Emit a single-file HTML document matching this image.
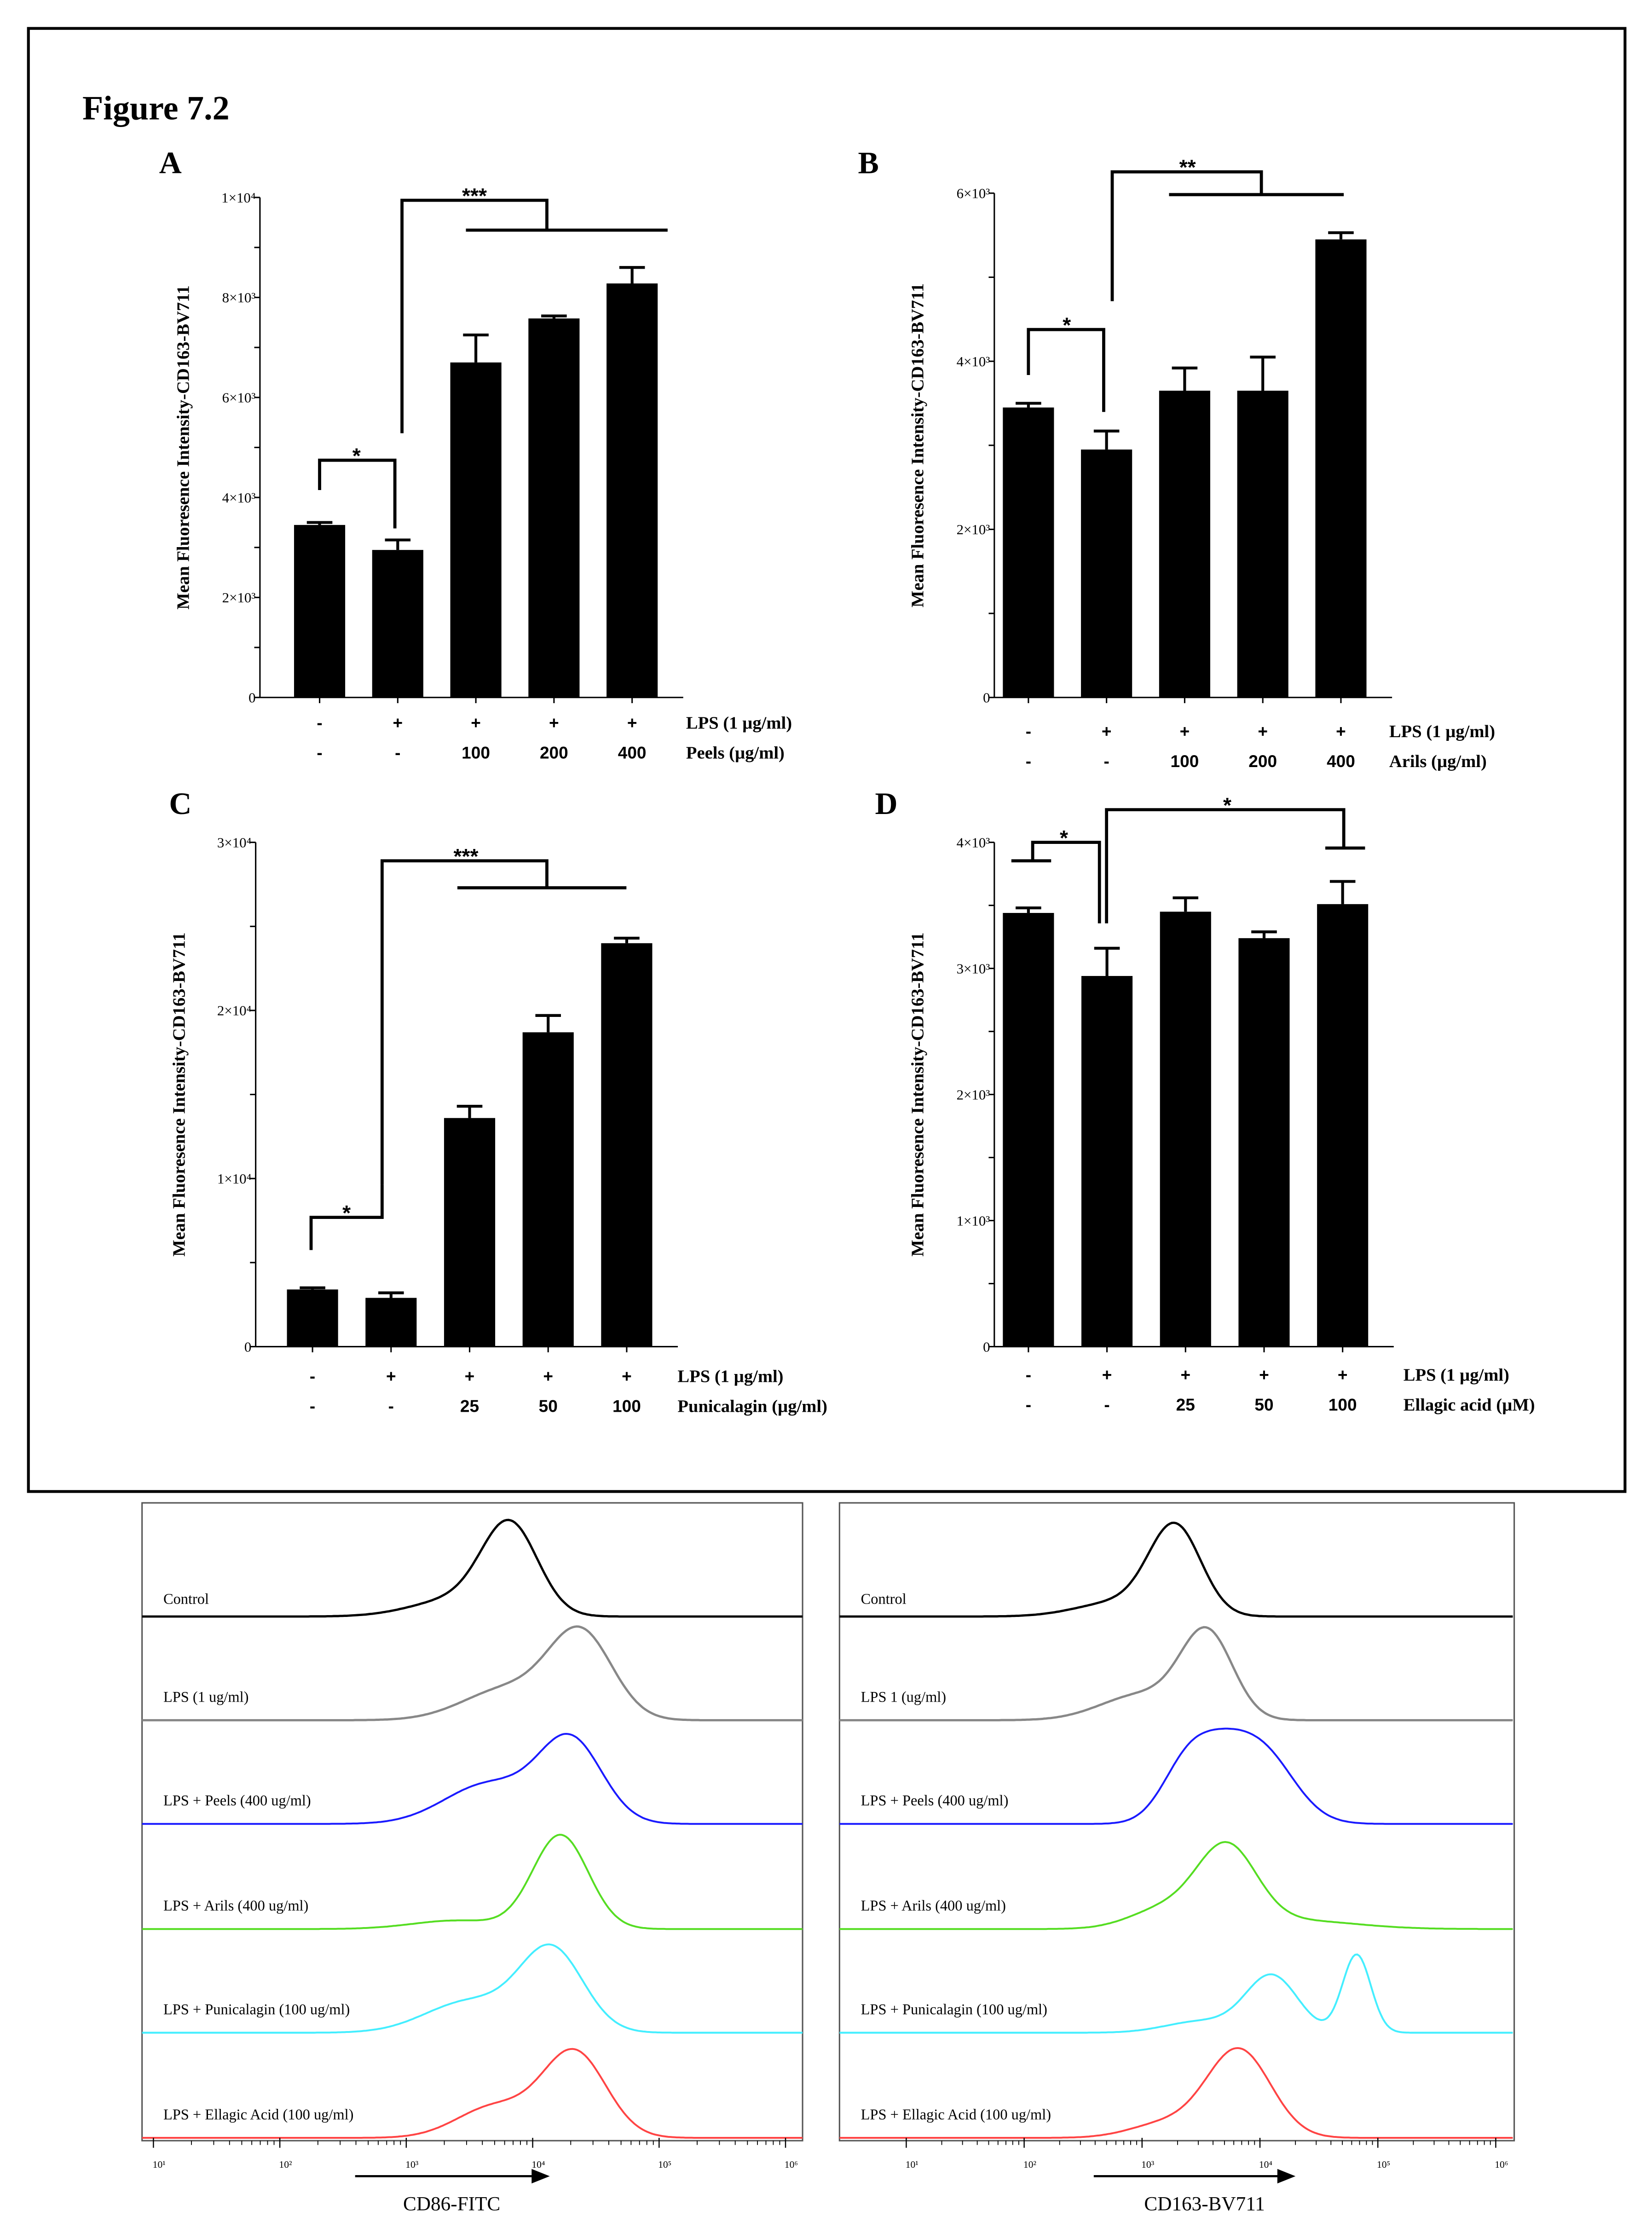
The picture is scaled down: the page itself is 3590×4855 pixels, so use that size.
<!DOCTYPE html>
<html><head><meta charset="utf-8"><style>
html,body{margin:0;padding:0;background:#fff}
svg{display:block}
text{font-family:"Liberation Serif",serif}
.sans{font-family:"Liberation Sans",sans-serif;font-weight:bold}
</style></head><body>
<svg id="fig" width="3590" height="4855" viewBox="0 0 1163 1572.7" preserveAspectRatio="none" xmlns="http://www.w3.org/2000/svg">
<rect x="20" y="20" width="1124" height="1030" fill="none" stroke="#000" stroke-width="2"/>
<text x="58" y="84" font-size="24" font-weight="bold">Figure 7.2</text>
<g id="bars"></g>
<g id="hist"></g>
</svg>
<script>
const ns="http://www.w3.org/2000/svg";
// ---- bar chart data ----
const catA=["-","+","+","+","+"], doseA=["-","-","100","200","400"], valA=[3450,2950,6700,7580,8280], errA=[50,200,550,50,320];
const catB=["-","+","+","+","+"], doseB=["-","-","100","200","400"], valB=[3450,2950,3650,3650,5450], errB=[50,220,270,400,80];
const catC=["-","+","+","+","+"], doseC=["-","-","25","50","100"], valC=[3400,2900,13600,18700,24000], errC=[100,300,700,1000,300];
const catD=["-","+","+","+","+"], doseD=["-","-","25","50","100"], valD=[3440,2940,3450,3240,3510], errD=[40,220,110,50,180];
const ticksA=["0","2×10³","4×10³","6×10³","8×10³","1×10⁴"];
const ticksB=["0","2×10³","4×10³","6×10³"];
const ticksC=["0","1×10⁴","2×10⁴","3×10⁴"];
const ticksD=["0","1×10³","2×10³","3×10³","4×10³"];
function mk(tag,attrs,parent,txt){const e=document.createElementNS(ns,tag);for(const k in attrs)e.setAttribute(k,attrs[k]);if(txt!==undefined)e.textContent=txt;parent.appendChild(e);return e;}
const panels=[
 {L:"A",lx:112,ly:122,ax:183,y0:491,y1:139,max:10000,ticks:ticksA,step:2000,minor:1000,c0:225,dx:55,cat:catA,dose:doseA,val:valA,err:errA,lab1:"LPS  (1 µg/ml)",lab2:"Peels (µg/ml)",r1:513,r2:534,lx2:483,
  sig:[{t:"*",sx:251,sy:320,l:[[[225,345],[225,324],[278,324],[278,372]]]},{t:"***",sx:334,sy:137,l:[[[283,305],[283,141],[385,141],[385,162]],[[328,162],[470,162]]]}]},
 {L:"B",lx:604,ly:122,ax:700,y0:491,y1:136,max:6000,ticks:ticksB,step:2000,minor:1000,c0:724,dx:55,cat:catB,dose:doseB,val:valB,err:errB,lab1:"LPS  (1 µg/ml)",lab2:"Arils (µg/ml)",r1:519,r2:540,lx2:978,
  sig:[{t:"*",sx:751,sy:228,l:[[[724,264],[724,232],[777,232],[777,290]]]},{t:"**",sx:836,sy:117,l:[[[783,212],[783,121],[888,121],[888,137]],[[823,137],[946,137]]]}]},
 {L:"C",lx:119,ly:573,ax:180,y0:948,y1:593,max:30000,ticks:ticksC,step:10000,minor:5000,c0:220,dx:55.3,cat:catC,dose:doseC,val:valC,err:errC,lab1:"LPS  (1 µg/ml)",lab2:"Punicalagin (µg/ml)",r1:973,r2:994,lx2:477,
  sig:[{t:"*",sx:244,sy:853,l:[[[219,880],[219,857],[269,857],[269,834]]]},{t:"***",sx:328,sy:602,l:[[[269,834],[269,606],[385,606],[385,625]],[[322,625],[441,625]]]}]},
 {L:"D",lx:616,ly:573,ax:700,y0:948,y1:593,max:4000,ticks:ticksD,step:1000,minor:500,c0:724,dx:55.3,cat:catD,dose:doseD,val:valD,err:errD,lab1:"LPS  (1 µg/ml)",lab2:"Ellagic acid (µM)",r1:972,r2:993,lx2:988,
  sig:[{t:"*",sx:749,sy:589,l:[[[712,606],[740,606]],[[727,606],[727,593],[774,593],[774,650]]]},{t:"*",sx:864,sy:566,l:[[[779,650],[779,570],[946,570],[946,597]],[[933,597],[961,597]]]}]}
];
const G=document.getElementById('bars');
panels.forEach((p,pi)=>{
 const g=mk('g',{},G);
 
 
 const Y=v=>p.y0-(v/p.max)*(p.y0-p.y1);
 const X=i=>p.c0+i*p.dx;
 const t=mk('text',{x:p.lx,y:p.ly,'font-size':22,'font-weight':'bold'},g,p.L);
 
 
 const ax=mk('line',{x1:p.ax,y1:p.y0,x2:p.ax,y2:p.y1,stroke:'#000','stroke-width':1},g);
 
 
 const xe=X(4)+36;
 const xa=mk('line',{x1:p.ax,y1:p.y0,x2:xe,y2:p.y0,stroke:'#000','stroke-width':1},g);
 
 
 for(let v=0;v<=p.max+1;v+=p.minor){mk('line',{x1:p.ax-4,y1:Y(v),x2:p.ax,y2:Y(v),stroke:'#000','stroke-width':1},g);}
 p.ticks.forEach((s,i)=>{const tl=mk('text',{x:p.ax-3,y:Y(i*p.step)+3.5,'font-size':10,'text-anchor':'end'},g,s);
  
  });
 const yt=mk('text',{transform:`translate(${p.ax-50},${(p.y0+p.y1)/2}) rotate(-90)`,'font-size':12.5,'font-weight':'bold','text-anchor':'middle'},g,'Mean Fluoresence Intensity-CD163-BV711');
 
 
 p.val.forEach((v,i)=>{
  const b=mk('rect',{x:X(i)-18,y:Y(v),width:36,height:p.y0-Y(v),fill:'#000'},g);
  
  
  const e=mk('path',{d:`M${X(i)},${Y(v)}V${Y(v+p.err[i])}M${X(i)-9},${Y(v+p.err[i])}H${X(i)+9}`,stroke:'#000','stroke-width':2,fill:'none'},g);
  
  
  mk('line',{x1:X(i),y1:p.y0,x2:X(i),y2:p.y0+4,stroke:'#000'},g);
  const c1=mk('text',{x:X(i),y:p.r1,'font-size':12,'text-anchor':'middle','class':'sans'},g,p.cat[i]);
  
  
  const c2=mk('text',{x:X(i),y:p.r2,'font-size':12,'text-anchor':'middle','class':'sans'},g,p.dose[i]);
  
  
 });
 const l1=mk('text',{x:p.lx2,y:p.r1,'font-size':12.5,'font-weight':'bold'},g,p.lab1);
 
 
 const l2=mk('text',{x:p.lx2,y:p.r2,'font-size':12.5,'font-weight':'bold'},g,p.lab2);
 
 
 p.sig.forEach(s=>{
  let d='';
  s.l.forEach(poly=>{poly.forEach((pt,j)=>{d+=(j?'L':'M')+pt[0]+','+pt[1];});});
  const br=mk('path',{d,stroke:'#000','stroke-width':2.2,fill:'none'},g);
  
  
  const st=mk('text',{x:s.sx,y:s.sy+6,'font-size':15,'font-weight':'bold','text-anchor':'middle','class':'sans'},g,s.t);
  
  
 });
});
// ---- histogram data: gaussian components [log10 position, sigma, amplitude] ----
const labelsL=["Control","LPS (1 ug/ml)","LPS + Peels (400 ug/ml)","LPS + Arils (400 ug/ml)","LPS + Punicalagin (100 ug/ml)","LPS + Ellagic Acid (100 ug/ml)"];
const labelsR=["Control","LPS 1 (ug/ml)","LPS + Peels (400 ug/ml)","LPS + Arils (400 ug/ml)","LPS + Punicalagin (100 ug/ml)","LPS + Ellagic Acid (100 ug/ml)"];
const colors=["#000","#888","#1a1aff","#55dd22","#44eeff","#ff4444"];
const compL=[
 [[3.82,0.22,62],[3.4,0.35,12]],
 [[4.38,0.25,60],[3.8,0.35,22]],
 [[4.3,0.25,58],[3.65,0.35,28]],
 [[4.22,0.22,66],[3.4,0.35,6]],
 [[4.15,0.25,58],[3.5,0.35,22]],
 [[4.33,0.25,60],[3.7,0.3,22]]];
const compR=[
 [[3.28,0.22,62],[2.8,0.35,10]],
 [[3.55,0.22,60],[3.0,0.35,18]],
 [[3.4,0.22,45],[4.0,0.28,52],[3.7,0.2,20]],
 [[3.72,0.25,55],[3.2,0.3,14],[4.3,0.5,6]],
 [[4.1,0.22,40],[4.82,0.12,55],[3.5,0.3,8]],
 [[3.82,0.27,62],[3.2,0.3,10]]];
const xTickLabels=["10¹","10²","10³","10⁴","10⁵","10⁶"];
const H=document.getElementById('hist');
const hp=[{x0:100,x1:565,d1:108,dec:89,labels:labelsL,comp:compL,title:"CD86-FITC",tx:318,arrow:[250,385],name:"cd86-histogram"},
          {x0:591,x1:1066,d1:638,dec:83,labels:labelsR,comp:compR,title:"CD163-BV711",tx:848,arrow:[770,910],name:"cd163-histogram"}];
const base=[1138,1211,1284,1358,1431,1505];
hp.forEach(h=>{
 const g=mk('g',{},H);
 
 
 const fr=mk('rect',{x:h.x0,y:1058,width:h.x1-h.x0,height:449,fill:'none',stroke:'#555','stroke-width':1},g);
 
 
 const LX=l=>h.d1+(l-1)*h.dec;
 h.comp.forEach((cs,k)=>{
  let d='';
  for(let px=h.x0;px<=h.x1;px+=1.5){
   const l=1+(px-h.d1)/h.dec;let y=0;
   cs.forEach(c=>{y+=c[2]*Math.exp(-0.5*((l-c[0])/c[1])**2);});
   d+=(d?'L':'M')+px.toFixed(1)+','+(base[k]-y).toFixed(1);
  }
  const pa=mk('path',{d,stroke:colors[k],'stroke-width':k<2?1.6:1.3,fill:'none'},g);
  
  
  const lt=mk('text',{x:h.x0+15,y:base[k]-(k==0?9:13),'font-size':10.5},g,h.labels[k]);
  
  
 });
 for(let dd=1;dd<=6;dd++){
  const x=LX(dd);
  if(dd<6)for(let m=2;m<10;m++){const xm=LX(dd+Math.log10(m));mk('line',{x1:xm,y1:1507,x2:xm,y2:1510,stroke:'#000','stroke-width':0.6},g);}
  mk('line',{x1:x,y1:1505,x2:x,y2:1512,stroke:'#000','stroke-width':0.8},g);
  const tl=mk('text',{x:x+4,y:1526,'font-size':7,'font-family':'Liberation Sans','text-anchor':'middle'},g,xTickLabels[dd-1]);
  
  
 }
 const ar=mk('path',{d:`M${h.arrow[0]},1532H${h.arrow[1]-8}M${h.arrow[1]},1532l-10,-4v8z`,stroke:'#000','stroke-width':1.5,fill:'#000'},g);
 
 
 const tt=mk('text',{x:h.tx,y:1556,'font-size':14,'text-anchor':'middle'},g,h.title);
 
 
});
</script>
</body></html>
